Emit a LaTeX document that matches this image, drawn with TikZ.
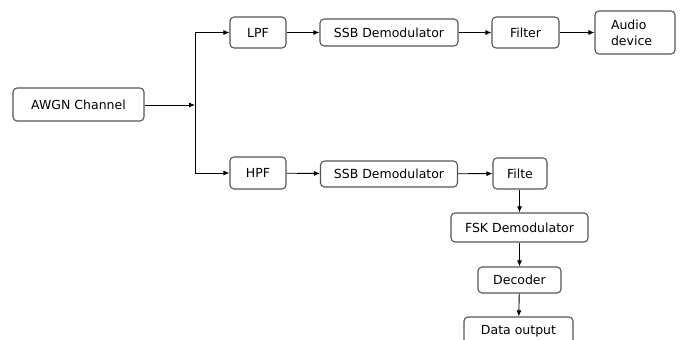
\documentclass[tikz,border=0pt]{standalone}
\usepackage{fontspec}
\setmainfont{DejaVu Sans}
\usepackage{tikz}
\usetikzlibrary{arrows.meta, positioning}
\definecolor{boxgray}{RGB}{85,85,85}

\begin{document}
\begin{tikzpicture}[
    x=1pt, y=-1pt,
    block/.style={rectangle, rounded corners=4pt, draw=boxgray, line width=1.1pt, fill=white, inner sep=2pt, font=\fontsize{12.5}{16}\selectfont},
    arrow/.style={-{Latex[length=6pt, width=5pt]}, line width=0.9pt}
]
    \clip (0,0) rectangle (680,340);
    \fill[white] (0,0) rectangle (680,340);

    % Channel
    \node[block, minimum width=131pt, minimum height=33pt] (awgn) at (78.5,104.5) {AWGN Channel};
    \coordinate (split) at (195,105);

    % Upper branch (audio)
    \node[block, minimum width=56pt, minimum height=31pt] (lpf) at (258,32.5) {LPF};
    \node[block, minimum width=138pt, minimum height=27pt] (ssbup) at (389,32.5) {SSB Demodulator};
    \node[block, minimum width=67pt, minimum height=31pt] (filtup) at (525.5,32.5) {Filter};
    \node[block, minimum width=80pt, minimum height=43pt, text width=48pt, align=left] (audio) at (635,32.5) {Audio\\device};

    % Lower branch (data)
    \node[block, minimum width=56pt, minimum height=32pt] (hpf) at (258,173) {HPF};
    \node[block, minimum width=137pt, minimum height=26pt] (ssbdown) at (389,174) {SSB Demodulator};
    \node[block, minimum width=54pt, minimum height=31pt] (filtdown) at (520,173.5) {Filte};
    \node[block, minimum width=137pt, minimum height=29pt] (fsk) at (519.5,227.5) {FSK Demodulator};
    \node[block, minimum width=83pt, minimum height=26pt] (dec) at (519.5,280) {Decoder};
    \node[block, minimum width=109pt, minimum height=28pt] (data) at (518.5,331) {Data output};

    % Arrows
    \draw[arrow] (awgn.east |- split) -- (split);
    \draw[arrow] (split) |- (lpf);
    \draw[arrow] (split) |- (hpf);
    \draw[arrow] (lpf) -- (ssbup);
    \draw[arrow] (ssbup) -- (filtup);
    \draw[arrow] (filtup) -- (audio);
    \draw[arrow] (hpf) -- (ssbdown);
    \draw[arrow] (ssbdown) -- (filtdown);
    \draw[arrow] (filtdown.south -| fsk.north) -- (fsk);
    \draw[arrow] (fsk) -- (dec);
    \draw[arrow] (dec) -- (data);
\end{tikzpicture}
\end{document}
